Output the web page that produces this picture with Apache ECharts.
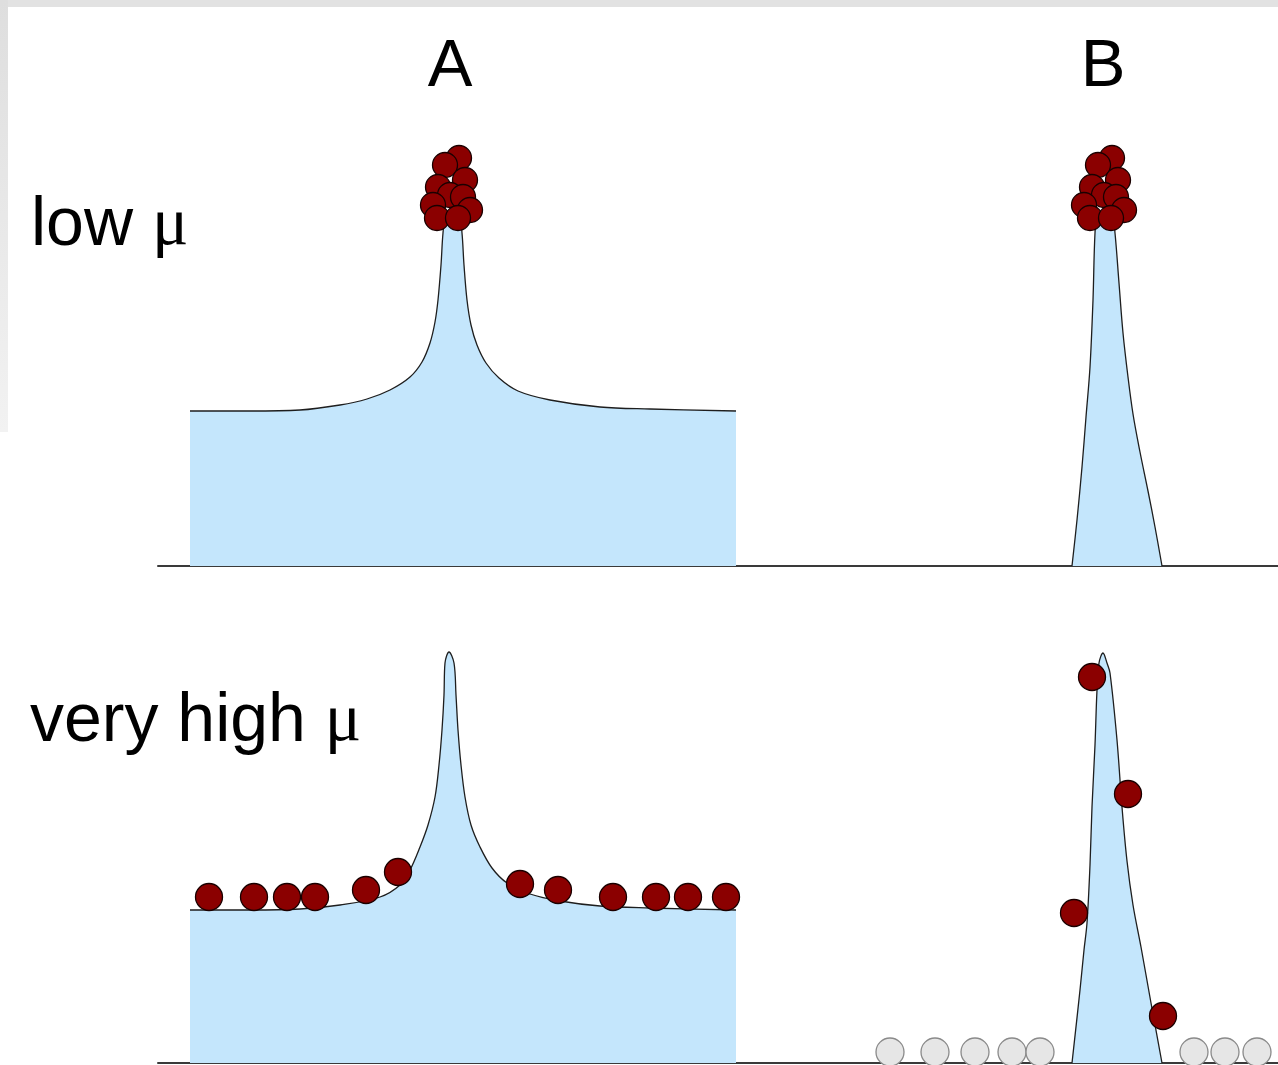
<!DOCTYPE html>
<html>
<head>
<meta charset="utf-8">
<script src="https://cdn.jsdelivr.net/npm/echarts@6/dist/echarts.min.js"></script>
<style>
html,body{margin:0;padding:0;background:#fff;}
#chart{width:1278px;height:1065px;}
</style>
</head>
<body>
<div id="chart"></div>
<script>
// ---- data (x: position units, y: height above baseline) ----
var panelLabels = ['low μ', 'very high μ'];
var columnLabels = ['A', 'B'];

var curveA_low = [[3.2,15.5],[9.2,15.5],[14.2,15.6],[18.2,16.1],[20.9,16.7],[23.2,17.6],[25.2,18.9],[26.4,20.4],[27.2,22.3],[27.7,24.4],[28.0,26.6],[28.3,30.1],[28.5,33.3],[28.7,34.4],[29.4,35.2],[30.2,34.4],[30.4,33.3],[30.6,30.1],[30.9,26.6],[31.3,24.1],[31.9,22.1],[32.8,20.3],[34.1,18.8],[36.0,17.5],[39.2,16.6],[44.2,15.9],[49.2,15.7],[57.8,15.5]];
var curveB_low = [[91.4,0],[91.9,4.6],[92.4,9.9],[92.8,14.9],[93.2,19.9],[93.5,26.6],[93.7,33.3],[93.9,34.4],[94.7,35.1],[95.5,34.4],[95.7,33.3],[96.1,28.3],[96.5,23.3],[97.0,18.9],[97.5,15.2],[98.2,11.4],[99.0,7.5],[99.7,3.9],[100.4,0]];
var curveA_high = [[3.2,15.3],[9.2,15.3],[14.2,15.4],[18.2,15.8],[22.2,16.6],[24.2,17.8],[25.2,19.3],[26.2,21.6],[27.0,23.8],[27.7,26.6],[28.1,29.8],[28.4,33.3],[28.6,36.8],[28.7,40.0],[29.1,41.1],[29.6,40.0],[29.8,36.8],[30.0,33.3],[30.3,29.8],[30.7,26.6],[31.3,23.8],[32.2,21.6],[33.4,19.5],[34.9,18.0],[37.2,16.9],[40.2,16.2],[44.2,15.7],[49.2,15.5],[57.8,15.3]];
var curveB_high = [[91.4,0],[92.2,7.3],[92.6,11.3],[92.9,14.0],[93.2,19.8],[93.4,25.6],[93.7,31.8],[93.9,37.3],[94.1,40.0],[94.5,41.0],[94.9,40.0],[95.2,39.0],[95.9,32.3],[96.4,25.6],[96.9,20.2],[97.5,15.8],[98.3,11.6],[99.3,6.0],[100.4,0]];

var dotsA_low = [[30.1,40.8],[28.7,40.1],[30.7,38.6],[28.0,37.9],[29.2,37.1],[30.5,36.9],[27.5,36.1],[31.2,35.6],[27.9,34.8],[30.0,34.8]];
var dotsB_low = [[95.4,40.8],[94.0,40.1],[96.0,38.6],[93.4,37.9],[94.6,37.1],[95.8,36.9],[92.6,36.1],[96.6,35.6],[93.2,34.8],[95.3,34.8]];
var dotsA_high = [[5.1,16.6],[9.6,16.6],[12.9,16.6],[15.7,16.6],[20.8,17.3],[24.0,19.1],[36.2,17.9],[40.0,17.3],[45.5,16.6],[49.8,16.6],[53.0,16.6],[56.8,16.6]];
var dotsB_high = [[93.4,38.6],[97.0,26.9],[91.6,15.0],[100.5,4.7]];
var dotsOut_high = [[73.2,1.1],[77.7,1.1],[81.7,1.1],[85.4,1.1],[88.2,1.1],[103.6,1.1],[106.7,1.1],[109.9,1.1]];

var X_MAX = 112, Y_MAX = 50;

var chart = echarts.init(document.getElementById('chart'), null, {renderer:'canvas'});

function xAx(i){
  return {type:'value', gridIndex:i, min:0, max:X_MAX,
    axisLine:{show:true, onZero:false, lineStyle:{color:'#3a3a3a', width:2}},
    axisTick:{show:false}, axisLabel:{show:false}, splitLine:{show:false}};
}
function yAx(i){
  return {type:'value', gridIndex:i, min:0, max:Y_MAX, show:false, splitLine:{show:false}};
}
function curve(data, i){
  return {type:'line', xAxisIndex:i, yAxisIndex:i, data:data, smooth:0.35,
    showSymbol:false, symbol:'none', clip:false, z:2,
    lineStyle:{color:'#1e1e1e', width:1.3},
    areaStyle:{color:'#c4e6fc', opacity:1}};
}
function dots(data, i, size, fill, stroke){
  return {type:'scatter', xAxisIndex:i, yAxisIndex:i, data:data, symbol:'circle', symbolSize:size,
    clip:false, z:3,
    itemStyle:{color:fill, borderColor:stroke, borderWidth:1.3, opacity:1}};
}

var fontSans = '"Liberation Sans", Arial, sans-serif';
var fontSerif = '"Liberation Serif", "Times New Roman", serif';

function label(txt, x, y){
  var parts = txt.split('μ');
  return {type:'text', left:x, top:y - 32, z:10,
    style:{text: parts[0] + '{m|μ}' + parts[1], fontFamily:fontSans, fontSize:68, fill:'#000',
      rich:{m:{fontFamily:fontSerif, fontSize:68, fill:'#000'}}}};
}

var option = {
  backgroundColor:'#ffffff',
  animation:false,
  grid:[
    {left:158, right:0, top:66, height:500},
    {left:158, right:0, top:563, height:500}
  ],
  xAxis:[xAx(0), xAx(1)],
  yAxis:[yAx(0), yAx(1)],
  graphic:[
    {type:'rect', left:0, top:0, z:0, shape:{width:1278, height:7}, style:{fill:'#e2e2e2'}},
    {type:'rect', left:0, top:0, z:0, shape:{width:8, height:432},
      style:{fill:new echarts.graphic.LinearGradient(0,0,0,1,[{offset:0,color:'#dedede'},{offset:1,color:'#f2f2f2'}])}},
    {type:'text', x:450, y:68, z:10, style:{text:columnLabels[0], fontFamily:fontSans, fontSize:67, fill:'#000', align:'center', verticalAlign:'middle'}},
    {type:'text', x:1103, y:68, z:10, style:{text:columnLabels[1], fontFamily:fontSans, fontSize:67, fill:'#000', align:'center', verticalAlign:'middle'}},
    label(panelLabels[0], 31, 224),
    label(panelLabels[1], 30, 720)
  ],
  series:[
    curve(curveA_low, 0),
    curve(curveB_low, 0),
    curve(curveA_high, 1),
    curve(curveB_high, 1),
    dots(dotsA_low, 0, 25, '#8b0000', '#1a0000'),
    dots(dotsB_low, 0, 25, '#8b0000', '#1a0000'),
    dots(dotsA_high, 1, 27, '#8b0000', '#1a0000'),
    dots(dotsB_high, 1, 27, '#8b0000', '#1a0000'),
    dots(dotsOut_high, 1, 28, '#e6e6e6', '#8a8a8a')
  ]
};
chart.setOption(option);
</script>
</body>
</html>
